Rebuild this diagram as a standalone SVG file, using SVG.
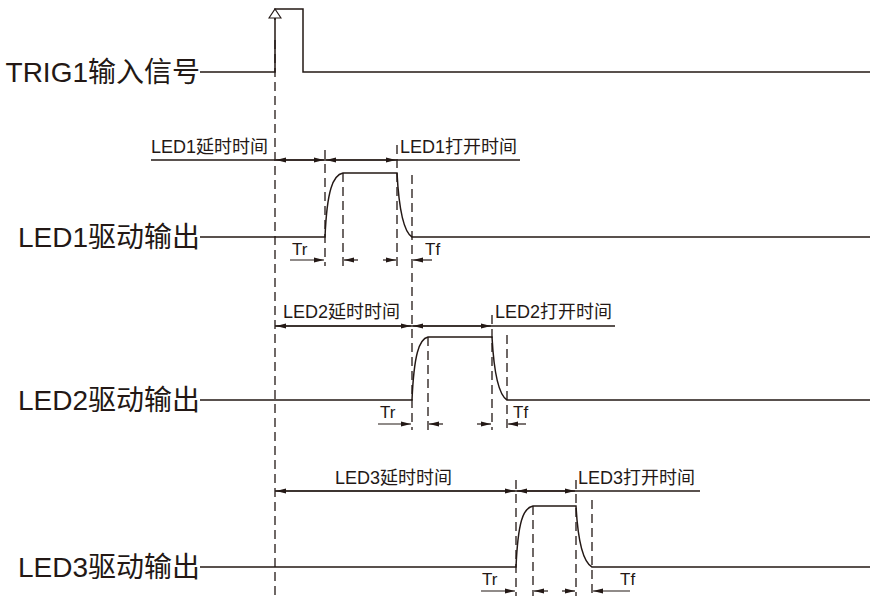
<svg xmlns="http://www.w3.org/2000/svg" width="879" height="606" viewBox="0 0 879 606">
<style>
.l{stroke:#231815;stroke-width:1.5;fill:none}
.d{stroke:#231815;stroke-width:1.3;fill:none;stroke-dasharray:9,5}
.t{font-family:"Liberation Sans","Noto Sans CJK SC",sans-serif;fill:#231815}
.big{font-size:28px}
.sm{font-size:18px}
.tr{font-size:17px}
.a{stroke:#231815;stroke-width:1.2;fill:none;marker-end:url(#ar)}
</style>
<defs>
<marker id="ar" markerWidth="10" markerHeight="6" refX="10" refY="3" orient="auto" markerUnits="userSpaceOnUse"><path d="M0,0.5 L10,3 L0,5.5 z" fill="#231815"/></marker>
<marker id="ho" markerWidth="14" markerHeight="12" refX="7" refY="1" orient="0" markerUnits="userSpaceOnUse"><path d="M7,1 L13,10 L1,10 z" fill="#fff" stroke="#231815" stroke-width="1.2"/></marker>
</defs>
<g id="labels">
<text class="t big" x="200" y="82" text-anchor="end">TRIG1输入信号</text>
<text class="t big" x="200" y="247" text-anchor="end">LED1驱动输出</text>
<text class="t big" x="200" y="410" text-anchor="end">LED2驱动输出</text>
<text class="t big" x="200" y="577" text-anchor="end">LED3驱动输出</text>
</g>
<g id="trig">
<path class="l" d="M200,72 H275 V9 H303 V72 H870"/>
<path class="l" d="M275,20 V9" marker-end="url(#ho)"/>
</g>
<g id="led1">
<path class="l" d="M200,237 H325 C327,190 333,175 343,173 H397 C399,210 404,232 412,237 H870"/>
<line class="l" x1="151" y1="160" x2="520" y2="160"/>
<text class="t sm" x="151" y="153">LED1延时时间</text>
<text class="t sm" x="400" y="153">LED1打开时间</text>
<text class="t tr" x="292" y="255">Tr</text>
<text class="t tr" x="425" y="255">Tf</text>
</g>
<g id="led2">
<path class="l" d="M200,400 H412 C414,355 419,339 428,337 H492 C494,374 499,395 507,400 H870"/>
<line class="l" x1="275" y1="326" x2="615" y2="326"/>
<text class="t sm" x="283" y="318">LED2延时时间</text>
<text class="t sm" x="495" y="318">LED2打开时间</text>
<text class="t tr" x="380" y="418">Tr</text>
<text class="t tr" x="513" y="418">Tf</text>
</g>
<g id="led3">
<path class="l" d="M200,567 H516 C518,522 523,508 533,506 H576 C578,543 583,562 592,567 H870"/>
<line class="l" x1="275" y1="491" x2="700" y2="491"/>
<text class="t sm" x="335" y="484">LED3延时时间</text>
<text class="t sm" x="578" y="484">LED3打开时间</text>
<text class="t tr" x="482" y="585">Tr</text>
<text class="t tr" x="620" y="585">Tf</text>
</g>
<g id="connectors">
<line class="d" x1="275" y1="40" x2="275" y2="600"/>
<line class="d" x1="325" y1="150" x2="325" y2="266"/>
<line class="d" x1="343" y1="173" x2="343" y2="266"/>
<line class="d" x1="397" y1="145" x2="397" y2="266"/>
<line class="d" x1="412" y1="175" x2="412" y2="430"/>
<line class="d" x1="428" y1="337" x2="428" y2="430"/>
<line class="d" x1="492" y1="315" x2="492" y2="430"/>
<line class="d" x1="507" y1="335" x2="507" y2="430"/>
<line class="d" x1="516" y1="480" x2="516" y2="596"/>
<line class="d" x1="533" y1="506" x2="533" y2="596"/>
<line class="d" x1="576" y1="480" x2="576" y2="596"/>
<line class="d" x1="592" y1="500" x2="592" y2="596"/>
<line class="a" x1="300" y1="160" x2="276" y2="160"/>
<line class="a" x1="300" y1="160" x2="324" y2="160"/>
<line class="a" x1="360" y1="160" x2="326" y2="160"/>
<line class="a" x1="360" y1="160" x2="396" y2="160"/>
<line class="a" x1="290" y1="260" x2="324" y2="260"/>
<line class="a" x1="358" y1="260" x2="344" y2="260"/>
<line class="a" x1="383" y1="260" x2="396" y2="260"/>
<line class="a" x1="432" y1="260" x2="413" y2="260"/>
<line class="a" x1="340" y1="326" x2="276" y2="326"/>
<line class="a" x1="340" y1="326" x2="411" y2="326"/>
<line class="a" x1="450" y1="326" x2="413" y2="326"/>
<line class="a" x1="450" y1="326" x2="491" y2="326"/>
<line class="a" x1="378" y1="424" x2="411" y2="424"/>
<line class="a" x1="443" y1="424" x2="429" y2="424"/>
<line class="a" x1="477" y1="424" x2="491" y2="424"/>
<line class="a" x1="526" y1="424" x2="508" y2="424"/>
<line class="a" x1="395" y1="491" x2="276" y2="491"/>
<line class="a" x1="395" y1="491" x2="515" y2="491"/>
<line class="a" x1="546" y1="491" x2="517" y2="491"/>
<line class="a" x1="546" y1="491" x2="575" y2="491"/>
<line class="a" x1="481" y1="591" x2="515" y2="591"/>
<line class="a" x1="548" y1="591" x2="534" y2="591"/>
<line class="a" x1="562" y1="591" x2="575" y2="591"/>
<line class="a" x1="630" y1="591" x2="593" y2="591"/>
</g>
</svg>
